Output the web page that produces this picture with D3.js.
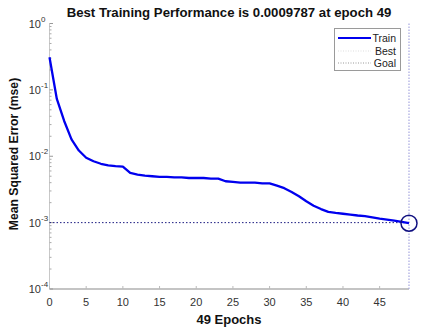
<!DOCTYPE html>
<html><head><meta charset="utf-8">
<script src="https://cdn.jsdelivr.net/npm/d3@7"></script>
<style>body{margin:0;background:#fff}svg{display:block;font-family:Arial,"Liberation Sans",sans-serif}</style>
</head><body>
<svg id="c" width="422" height="328"></svg>
<script>
const epochs = d3.range(0, 50);
const trainMse = [0.31,0.073,0.034,0.018,0.0122,0.0095,0.0084,0.0077,0.0073,0.0071,
0.0070,0.0056,0.0053,0.0051,0.0050,0.0049,0.0049,0.0048,0.0048,0.0047,
0.0047,0.0047,0.0046,0.0046,0.0042,0.0041,0.0040,0.0040,0.0040,0.0039,
0.0039,0.0036,0.0033,0.0029,0.0025,0.0021,0.0018,0.0016,0.00145,0.00140,
0.00136,0.00132,0.00128,0.00125,0.00120,0.00115,0.00111,0.00107,0.00103,0.0009787];
const goal = 0.001;
const bestEpoch = 49;
const bestValue = 0.0009787;
const xTicks = [0,5,10,15,20,25,30,35,40,45];
const yTicks = [1,0.1,0.01,0.001,0.0001];
const yExps = ["0","-1","-2","-3","-4"];
const legendLabels = ["Train","Best","Goal"];

const svg = d3.select("#c");
const x = d3.scaleLinear().domain([0,49]).range([49.5,409]);
const y = d3.scaleLog().domain([1e-4,1]).range([289,23.5]);

// axes
const axisColor = "#8a8a8a";
svg.append("line").attr("x1",x(0)).attr("x2",x(49)).attr("y1",289).attr("y2",289).attr("stroke",axisColor).attr("stroke-width",1.2);
svg.append("line").attr("x1",49.5).attr("x2",49.5).attr("y1",y(1)).attr("y2",289).attr("stroke","#c8c8c8").attr("stroke-width",1);

// x ticks
xTicks.forEach(t=>{
  svg.append("line").attr("x1",x(t)).attr("x2",x(t)).attr("y1",289).attr("y2",286).attr("stroke","#bbb");
  svg.append("text").attr("x",x(t)).attr("y",306).attr("text-anchor","middle").attr("font-size",11).attr("fill","#333").text(t);
});
// y ticks major + minor
yTicks.forEach((t,i)=>{
  svg.append("line").attr("x1",49.5).attr("x2",53).attr("y1",y(t)).attr("y2",y(t)).attr("stroke","#999");
  svg.append("text").attr("x",41).attr("y",y(t)+4).attr("text-anchor","end").attr("font-size",11).attr("fill","#333").text("10");
  svg.append("text").attr("x",41).attr("y",y(t)-2).attr("font-size",8).attr("fill","#333").text(yExps[i]);
  if(i<yTicks.length-1){
    for(let k=2;k<10;k++){
      const v = yTicks[i+1]*k;
      svg.append("line").attr("x1",49.5).attr("x2",51.5).attr("y1",y(v)).attr("y2",y(v)).attr("stroke","#aaa");
    }
  }
});

// best vertical line
svg.append("line").attr("x1",x(bestEpoch)).attr("x2",x(bestEpoch)).attr("y1",y(1)).attr("y2",289)
  .attr("stroke","#a7a7e0").attr("stroke-width",1.2).attr("stroke-dasharray","1.5,1.5");
// goal line
svg.append("line").attr("x1",x(0)).attr("x2",x(49)).attr("y1",y(goal)).attr("y2",y(goal))
  .attr("stroke","#1a1a80").attr("stroke-width",1).attr("stroke-dasharray","1.5,2");

// train line
const line = d3.line().x((d,i)=>x(epochs[i])).y(d=>y(d));
svg.append("path").datum(trainMse).attr("d",line).attr("fill","none").attr("stroke","#0000ee").attr("stroke-width",2.3).attr("stroke-linejoin","round");

// best circle
svg.append("circle").attr("cx",x(bestEpoch)).attr("cy",y(bestValue)).attr("r",8).attr("fill","none").attr("stroke","#101080").attr("stroke-width",1.5);

// legend
const lg = svg.append("g");
lg.append("rect").attr("x",334.5).attr("y",28.5).attr("width",66).attr("height",42).attr("fill","#fff").attr("stroke","#9a9a9a");
lg.append("line").attr("x1",338).attr("x2",371).attr("y1",38).attr("y2",38).attr("stroke","#0000ee").attr("stroke-width",2.2);
lg.append("line").attr("x1",338).attr("x2",371).attr("y1",51).attr("y2",51).attr("stroke","#ddd").attr("stroke-dasharray","1,1.5");
lg.append("line").attr("x1",338).attr("x2",371).attr("y1",63).attr("y2",63).attr("stroke","#999").attr("stroke-dasharray","1,1.5");
legendLabels.forEach((l,i)=>{
  lg.append("text").attr("x",396).attr("y",[42,55,67][i]).attr("text-anchor","end").attr("font-size",10.5).attr("fill","#222").text(l);
});

// title and labels
svg.append("text").attr("x",229).attr("y",17).attr("text-anchor","middle").attr("font-size",13.2).attr("font-weight","bold").attr("fill","#111")
  .text("Best Training Performance is 0.0009787 at epoch 49");
svg.append("text").attr("x",229).attr("y",324).attr("text-anchor","middle").attr("font-size",13).attr("font-weight","bold").attr("fill","#111").text("49 Epochs");
svg.append("text").attr("transform","translate(18,154) rotate(-90)").attr("text-anchor","middle").attr("font-size",12.2).attr("font-weight","bold").attr("fill","#111").text("Mean Squared Error (mse)");
</script>
</body></html>
